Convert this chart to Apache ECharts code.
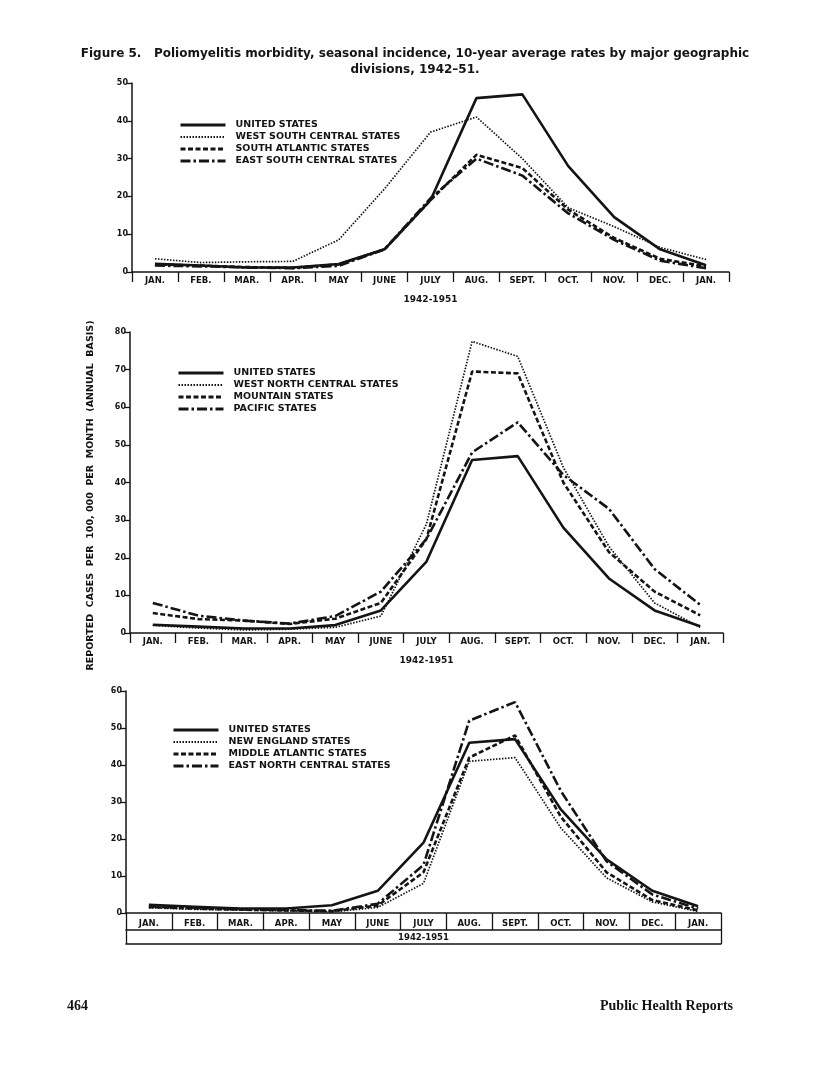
<!DOCTYPE html>
<html>
<head>
<meta charset="utf-8">
<style>
  html, body { margin: 0; padding: 0; background: #ffffff; }
  #chart { width: 816px; height: 1071px; }
</style>
<script src="https://cdn.jsdelivr.net/npm/echarts@6/dist/echarts.min.js"></script>
</head>
<body>
<div id="chart"></div>
<script>
// ---- Data ----
const months = ['JAN.', 'FEB.', 'MAR.', 'APR.', 'MAY', 'JUNE', 'JULY', 'AUG.', 'SEPT.', 'OCT.', 'NOV.', 'DEC.', 'JAN.'];
const periodLabel = ['1942-1951'];

const unitedStates = [2.2, 1.7, 1.2, 1.2, 2.1, 6, 19, 46, 47, 28, 14.5, 6, 1.8];

// Panel 1
const westSouthCentral = [3.5, 2.5, 2.7, 2.8, 8.5, 22, 37, 41, 30, 17, 12, 6.5, 3.3];
const southAtlantic    = [2.0, 1.7, 1.3, 1.1, 2.0, 6, 19, 31, 27.5, 16.5, 9, 3.5, 1.5];
const eastSouthCentral = [1.7, 1.5, 1.2, 1.0, 1.6, 6, 19.5, 30, 25.5, 15.5, 8.5, 3, 1.0];

// Panel 2
const westNorthCentral = [2.0, 1.3, 0.8, 1.0, 1.5, 4.5, 29, 77.5, 73.5, 44, 23, 8, 1.5];
const mountain         = [5.3, 3.7, 3.3, 2.4, 3.8, 8, 25, 69.5, 69, 40, 21.5, 11, 4.7];
const pacific          = [8.0, 4.6, 3.3, 2.5, 4.5, 11, 25, 48, 56, 42, 33, 17, 7.5];

// Panel 3
const newEngland       = [1.4, 1.0, 0.8, 0.6, 0.3, 1.5, 8, 41, 42, 23, 9.5, 3, 0.4];
const middleAtlantic   = [1.6, 1.2, 0.9, 0.7, 0.5, 2.0, 11, 42, 48, 26, 11, 3.5, 0.7];
const eastNorthCentral = [1.8, 1.4, 1.0, 0.8, 0.6, 2.5, 13, 52, 57, 33, 14, 5, 1.2];

const yMax = [50, 80, 60];
const yInterval = 10;

// ---- Styling ----
const INK = '#141414';
const FONT = 'DejaVu Sans';
const SOLID  = { type: 'solid', width: 2.6, color: INK };
const DOTTED = { type: [1.5, 1.5], width: 1.7, color: INK };
const DASHED = { type: [5, 2.5], width: 2.6, color: INK };
const DASHDOT = { type: [10, 3, 2.5, 3], width: 2.6, color: INK };
const STYLES = [SOLID, DOTTED, DASHED, DASHDOT];

const grids = [
  { left: 132, right: 87, top: 83, height: 189 },
  { left: 130, right: 93, top: 332, height: 301 },
  { left: 126, right: 95, top: 691, height: 222 }
];

function yAxisFor(i, extra) {
  return Object.assign({
    type: 'value', gridIndex: i, min: 0, max: yMax[i], interval: yInterval,
    axisLine: { show: true, lineStyle: { color: INK, width: 1.5 } },
    axisTick: { show: true, length: 5, lineStyle: { color: INK, width: 1.3 } },
    axisLabel: { color: INK, fontFamily: FONT, fontWeight: 'bold', fontSize: 8, margin: 4 },
    splitLine: { show: false }
  }, extra || {});
}

function xAxisFor(i, tickLen, withName) {
  const ax = {
    type: 'category', gridIndex: i, data: months, boundaryGap: true, position: 'bottom',
    axisLine: { show: true, onZero: false, lineStyle: { color: INK, width: 1.5 } },
    axisTick: { show: true, alignWithLabel: false, interval: 0, length: tickLen, lineStyle: { color: INK, width: 1.3 } },
    axisLabel: { interval: 0, color: INK, fontFamily: FONT, fontWeight: 'bold', fontSize: 8.5, margin: tickLen === 10 ? 4 : 6 },
    splitLine: { show: false }
  };
  if (withName) {
    ax.name = periodLabel[0];
    ax.nameLocation = 'middle';
    ax.nameGap = 23;
    ax.nameTextStyle = { color: INK, fontFamily: FONT, fontWeight: 'bold', fontSize: 9 };
  }
  return ax;
}

function line(name, data, style, xi, yi) {
  return {
    name: name, type: 'line', data: data, xAxisIndex: xi, yAxisIndex: yi,
    symbol: 'none', showSymbol: false, smooth: false, silent: true,
    lineStyle: style, itemStyle: { color: INK }, z: 3
  };
}

function legendFor(names, left, top) {
  return {
    data: names.map(function (n, k) {
      return { name: n, lineStyle: { width: STYLES[k].width + 0.4, type: STYLES[k].type, color: INK } };
    }),
    orient: 'vertical', left: left, top: top, padding: 0,
    itemWidth: 45, itemHeight: 9, itemGap: 2, selectedMode: false,
    itemStyle: { opacity: 0, borderWidth: 0 },
    textStyle: { color: INK, fontFamily: FONT, fontWeight: 'bold', fontSize: 9.5, padding: [0, 0, 0, 5] }
  };
}

const chart = echarts.init(document.getElementById('chart'), null, { renderer: 'canvas' });

const option = {
  backgroundColor: '#ffffff',
  animation: false,
  title: [
    {
      text: 'Figure 5.   Poliomyelitis morbidity, seasonal incidence, 10-year average rates by major geographic\ndivisions, 1942\u201351.',
      left: 410, top: 41, textAlign: 'center',
      textStyle: { color: INK, fontFamily: FONT, fontWeight: 'bold', fontSize: 12, lineHeight: 16 }
    },
    {
      text: '464', left: 62, top: 994,
      textStyle: { color: INK, fontFamily: 'Liberation Serif', fontWeight: 'bold', fontSize: 14 }
    },
    {
      text: 'Public Health Reports', right: 78, top: 994,
      textStyle: { color: INK, fontFamily: 'Liberation Serif', fontWeight: 'bold', fontSize: 14 }
    }
  ],
  grid: grids,
  legend: [
    legendFor(['UNITED STATES', 'WEST SOUTH CENTRAL STATES', 'SOUTH ATLANTIC STATES', 'EAST SOUTH CENTRAL STATES'], 179, 120),
    legendFor(['UNITED STATES', 'WEST NORTH CENTRAL STATES', 'MOUNTAIN STATES', 'PACIFIC STATES'], 177, 368),
    legendFor(['UNITED STATES', 'NEW ENGLAND STATES', 'MIDDLE ATLANTIC STATES', 'EAST NORTH CENTRAL STATES'], 172, 725)
  ],
  xAxis: [
    xAxisFor(0, 10, true),
    xAxisFor(1, 10, true),
    xAxisFor(2, 17, false),
    {
      type: 'category', gridIndex: 2, data: periodLabel, boundaryGap: true, position: 'bottom', offset: 17,
      axisLine: { show: true, onZero: false, lineStyle: { color: INK, width: 1.5 } },
      axisTick: { show: true, alignWithLabel: false, interval: 0, length: 14, lineStyle: { color: INK, width: 1.3 } },
      axisLabel: { interval: 0, color: INK, fontFamily: FONT, fontWeight: 'bold', fontSize: 8.5, margin: 3 },
      splitLine: { show: false }
    },
    {
      type: 'category', gridIndex: 2, data: [''], boundaryGap: true, position: 'bottom', offset: 31,
      axisLine: { show: true, onZero: false, lineStyle: { color: INK, width: 1.5 } },
      axisTick: { show: false }, axisLabel: { show: false }, splitLine: { show: false }
    }
  ],
  yAxis: [
    yAxisFor(0),
    yAxisFor(1, {
      name: 'REPORTED  CASES  PER  100, 000  PER  MONTH  (ANNUAL  BASIS)',
      nameLocation: 'middle', nameGap: 34, nameRotate: 90,
      nameTextStyle: { color: INK, fontFamily: FONT, fontWeight: 'bold', fontSize: 9.5, padding: [0, 26, 0, 0] }
    }),
    yAxisFor(2)
  ],
  series: [
    line('UNITED STATES', unitedStates, SOLID, 0, 0),
    line('WEST SOUTH CENTRAL STATES', westSouthCentral, DOTTED, 0, 0),
    line('SOUTH ATLANTIC STATES', southAtlantic, DASHED, 0, 0),
    line('EAST SOUTH CENTRAL STATES', eastSouthCentral, DASHDOT, 0, 0),

    line('UNITED STATES', unitedStates, SOLID, 1, 1),
    line('WEST NORTH CENTRAL STATES', westNorthCentral, DOTTED, 1, 1),
    line('MOUNTAIN STATES', mountain, DASHED, 1, 1),
    line('PACIFIC STATES', pacific, DASHDOT, 1, 1),

    line('UNITED STATES', unitedStates, SOLID, 2, 2),
    line('NEW ENGLAND STATES', newEngland, DOTTED, 2, 2),
    line('MIDDLE ATLANTIC STATES', middleAtlantic, DASHED, 2, 2),
    line('EAST NORTH CENTRAL STATES', eastNorthCentral, DASHDOT, 2, 2)
  ]
};

chart.setOption(option);
</script>
</body>
</html>
